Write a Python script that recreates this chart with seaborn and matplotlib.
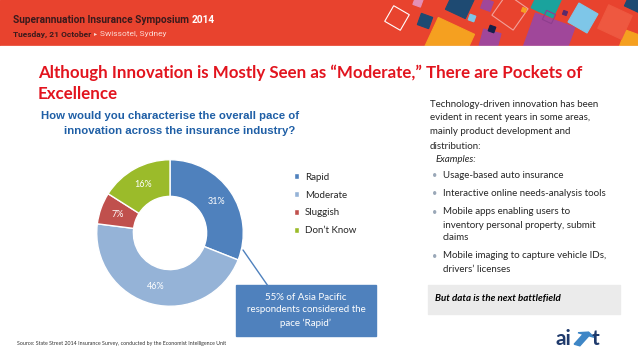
import matplotlib
matplotlib.use("Agg")
import matplotlib.pyplot as plt
import matplotlib.patches as mpatches
import matplotlib.transforms as mtrans
import seaborn as sns

# survey answers
categories = ["Rapid", "Moderate", "Sluggish", "Don\u2019t Know"]
shares = [31, 46, 7, 16]
colors = ["#4F81BD", "#95B3D7", "#C0504D", "#9BBB2A"]

title_lines = ["Although Innovation is Mostly Seen as \u201cModerate,\u201d There are Pockets of",
               "Excellence"]
question = ["How would you characterise the overall pace of",
            "innovation across the insurance industry?"]
intro = ["Technology-driven innovation has been",
         "evident in recent years in some areas,",
         "mainly product development and",
         "distribution:"]
examples = [["Usage-based auto insurance"],
            ["Interactive online needs-analysis tools"],
            ["Mobile apps enabling users to", "inventory personal property, submit", "claims"],
            ["Mobile imaging to capture vehicle IDs,", "drivers\u2019 licenses"]]
callout = ["55% of Asia Pacific", "respondents considered the", "pace \u2018Rapid\u2019"]

sns.set_theme(style="white")
plt.rcParams["font.family"] = ["Lato", "DejaVu Sans"]

W, H = 638, 359
fig = plt.figure(figsize=(W / 100, H / 100), dpi=100)
fig.patch.set_facecolor("white")
renderer = fig.canvas.get_renderer()


def fx(x):
    return x / W


def fy(y):
    return 1 - y / H


def txt(x, y, s, **kw):
    kw.setdefault("va", "center")
    return fig.text(fx(x), fy(y), s, **kw)


def chain(x, y, parts, gap=3, **kw):
    # write text pieces one after another on the same line
    for s, extra in parts:
        t = txt(x, y, s, **{**kw, **extra})
        x = t.get_window_extent(renderer).x1 + gap


# header band
hax = fig.add_axes([0, fy(46), 1, 46 / H])
hax.set_xlim(0, W)
hax.set_ylim(46, 0)
hax.set_axis_off()
hax.add_patch(mpatches.Rectangle((0, 0), W, 46, color="#E8432E", zorder=0))
squares = [
    (448, 44, 40, 25, "#F5A020", True), (548, 40, 42, 20, "#A0479A", True),
    (490, 40, 18, 15, "#A0479A", True), (632, 44, 22, 20, "#F5A020", True),
    (615, 22, 26, 25, "#EE5840", True), (397, 18, 18, 30, "white", False),
    (425, 21, 12, 20, "#1E4A72", True), (418, 2, 8, 20, "#E48FB6", True),
    (460, 4, 22, 25, "#1E4A72", True), (487, 5, 10, 20, "#A0479A", True),
    (472, 18, 6, 20, "#7EC6E8", True), (510, 12, 26, 35, "#F2A09A", False),
    (524, 10, 4, 20, "#F5A020", True), (547, 2, 24, 25, "#1AA39D", True),
    (549, 17, 10, 25, "#8E3E8E", False), (565, 13, 4, 20, "#5A2A6A", True),
    (583, 18, 22, 30, "#7EC6E8", True), (635, 2, 16, 25, "#1E4A72", True),
    (492, 29, 6, 20, "#14204A", True),
]
for cx, cy, s, ang, col, fill in squares:
    r = mpatches.Rectangle((-s / 2, -s / 2), s, s, facecolor=col if fill else "none",
                           edgecolor=col, lw=0.8, zorder=1)
    r.set_transform(mtrans.Affine2D().rotate_deg(ang).translate(cx, cy) + hax.transData)
    hax.add_patch(r)
hax.plot([0, W], [45.5, 45.5], color="#F3C9C0", lw=1, zorder=2)

chain(13, 20, [("Superannuation Insurance Symposium", dict(color="#3A1A1C")),
               ("2014", dict(color="white"))],
      fontsize=7.3, weight="bold", family=["Roboto", "DejaVu Sans"])
chain(13, 34, [("Tuesday, 21 October", dict(color="#3A1A1C", weight="bold")),
               ("\u25b8", dict(color="#FBD9D2", fontsize=4.5)),
               ("Swissotel, Sydney", dict(color="#FBD9D2"))],
      fontsize=6, family=["Roboto", "DejaVu Sans"])

# titles
txt(38, 73, title_lines[0], fontsize=12.2, weight="bold", color="#E2141E")
txt(38, 94, title_lines[1], fontsize=12.2, weight="bold", color="#E2141E")
txt(41, 116, question[0], fontsize=8.2, weight="bold", color="#1F5FA6",
    family=["Liberation Sans"])
txt(180, 131, question[1], fontsize=8.2, weight="bold", color="#1F5FA6",
    family=["Liberation Sans"], ha="center")

# donut chart
R = 74
ax = fig.add_axes([fx(170 - R), fy(233 + R), 2 * R / W, 2 * R / H])
wedges, _, autotexts = ax.pie(shares, colors=colors, startangle=90, counterclock=False,
                              radius=1, autopct="%d%%", pctdistance=0.76,
                              wedgeprops=dict(width=0.5, edgecolor="white", linewidth=1))
for t in autotexts:
    t.set_color("white")
    t.set_fontsize(6.5)
ax.set_xlim(-1.01, 1.01)
ax.set_ylim(-1.01, 1.01)
ax.set_aspect("equal")
ax.set_axis_off()

fig.legend(wedges, categories, loc="upper left", bbox_to_anchor=(fx(289), fy(168)),
           frameon=False, fontsize=7, handlelength=0.55, handleheight=0.55,
           handletextpad=0.6, labelspacing=0.9, borderpad=0)

# callout
fig.add_artist(plt.Line2D([fx(243), fx(268)], [fy(250), fy(286)], color="#4F81BD", lw=1))
fig.add_artist(mpatches.Rectangle((fx(236), fy(336)), 140 / W, 51 / H,
                                  transform=fig.transFigure, color="#4F81BD"))
for i, line in enumerate(callout):
    txt(306, 297 + i * 13, line, fontsize=7, color="white", ha="center")

# right-hand text
y = 104
for line in intro:
    txt(430, y, line, fontsize=7, color="#262626")
    y += 14
txt(436, y, "Examples:", fontsize=7, style="italic", color="#262626")
y += 16
for item in examples:
    txt(432, y, "\u2022", fontsize=6.5, color="#9AA8B8")
    for line in item:
        txt(443, y, line, fontsize=7, color="#262626")
        y += 13
    y += 5

fig.add_artist(mpatches.Rectangle((fx(428), fy(314)), 192 / W, 29 / H,
                                  transform=fig.transFigure, color="#EBEBEB"))
txt(435, 299, "But data is the next battlefield", fontsize=7, weight="bold",
    style="italic", color="black")

# footer
txt(17, 344, "Source: State Street 2014 Insurance Survey, conducted by the Economist Intelligence Unit",
    fontsize=3.8, color="#333333")
txt(555, 339, "ai", fontsize=15, weight="bold", color="#1F3A6C")
txt(592, 339, "t", fontsize=15, weight="bold", color="#1F3A6C")
fig.add_artist(mpatches.FancyArrow(fx(577), fy(345), fx(9), 10 / H, width=0.01,
                                   head_width=0.028, head_length=0.009,
                                   transform=fig.transFigure, color="#3E86C6"))

fig.savefig("out.png", dpi=100)
